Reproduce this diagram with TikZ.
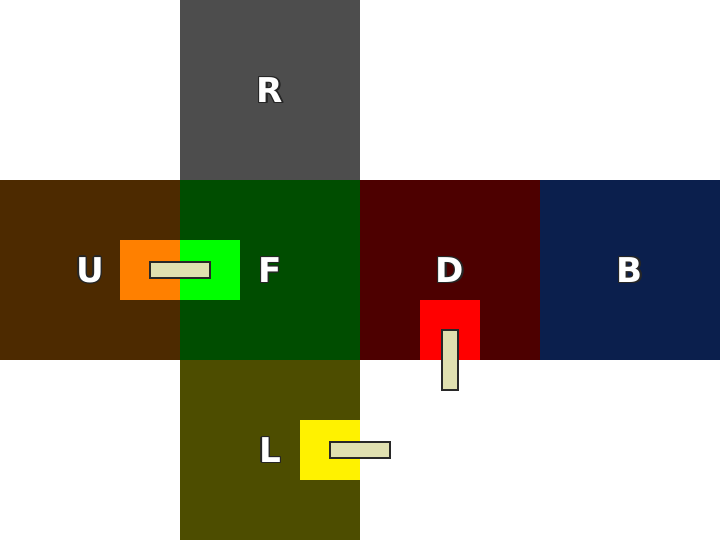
\documentclass[tikz,border=0pt]{standalone}
\usepackage{fontspec}
\setmainfont{DejaVu Sans}
\definecolor{faceR}{RGB}{77,77,77}
\definecolor{faceU}{RGB}{77,42,0}
\definecolor{faceF}{RGB}{0,77,0}
\definecolor{faceD}{RGB}{77,0,0}
\definecolor{faceB}{RGB}{11,31,77}
\definecolor{faceL}{RGB}{77,77,0}
\definecolor{barfill}{RGB}{224,224,176}
\definecolor{baredge}{RGB}{40,40,40}
\tikzset{
  facelbl/.style={font=\bfseries\fontsize{13.5}{14}\selectfont, text=white},
  facelblshade/.style={font=\bfseries\fontsize{13.5}{14}\selectfont, text=black!85},
  bar/.style={fill=barfill, draw=baredge, line width=0.6pt}
}
\newcommand{\facelabel}[3]{%
  \foreach \dx/\dy in {0.5/0, -0.5/0, 0/0.5, 0/-0.5, 0.6/-0.6, 0.4/0.4, -0.4/-0.4, -0.4/0.4}
    \node[facelblshade] at ([shift={(\dx pt,\dy pt)}]#1) {#3};
  \node[facelbl] (#2) at (#1) {#3};
}
\begin{document}
\begin{tikzpicture}[x=2.5cm, y=2.5cm]
    \useasboundingbox (0, 0) rectangle (4, 3);
    % faces
    \fill[faceR] (1, 2) rectangle (2, 3);
    \fill[faceU] (0, 1) rectangle (1, 2);
    \fill[faceF] (1, 1) rectangle (2, 2);
    \fill[faceD] (2, 1) rectangle (3, 2);
    \fill[faceB] (3, 1) rectangle (4, 2);
    \fill[faceL] (1, 0) rectangle (2, 1);
    % stickers
    \fill[orange!100!red] (2/3, 4/3) rectangle (1, 5/3);
    \fill[green] (1, 4/3) rectangle (4/3, 5/3);
    \fill[red] (7/3, 1) rectangle (8/3, 4/3);
    \fill[yellow] (5/3, 1/3) rectangle (2, 2/3);
    % bars
    \draw[bar] (5/6, 1.456) rectangle (7/6, 1.544);
    \draw[bar] (2.456, 0.8333) rectangle (2.544, 1.1667);
    \draw[bar] (11/6, 0.456) rectangle (13/6, 0.544);
    % labels
    \facelabel{1.5, 2.5}{lblR}{R}
    \facelabel{0.5, 1.5}{lblU}{U}
    \facelabel{1.5, 1.5}{lblF}{F}
    \facelabel{2.5, 1.5}{lblD}{D}
    \facelabel{3.5, 1.5}{lblB}{B}
    \facelabel{1.5, 0.5}{lblL}{L}
\end{tikzpicture}
\end{document}
